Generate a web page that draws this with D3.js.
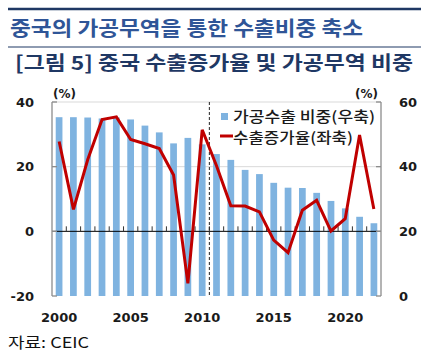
<!DOCTYPE html>
<html>
<head>
<meta charset="utf-8">
<script src="https://cdn.jsdelivr.net/npm/d3@7"></script>
<style>
  html, body { margin: 0; padding: 0; background: #fff; }
  svg { display: block; }
</style>
</head>
<body>
<svg id="chart" width="428" height="356"></svg>
<script>
const years = d3.range(2000, 2023);
const processingShare = [55.3, 55.3, 55.2, 54.9, 55.2, 54.6, 52.7, 50.6, 47.2, 48.9, 46.9, 43.9, 42.1, 39.0, 37.7, 35.0, 33.5, 33.4, 31.9, 29.4, 27.1, 24.5, 22.5];
const exportGrowth = [27.8, 6.8, 22.2, 34.6, 35.4, 28.4, 27.1, 25.6, 17.4, -16.1, 31.4, 20.3, 7.9, 7.8, 6.0, -2.7, -6.6, 6.5, 9.6, 0.1, 3.9, 29.8, 6.9];
const leftTicks = [-20, 0, 20, 40];
const rightTicks = [0, 20, 40, 60];
const xTickYears = [2000, 2005, 2010, 2015, 2020];
const titleText = "중국의 가공무역을 통한 수출비중 축소";
const subtitleText = "[그림 5] 중국 수출증가율 및 가공무역 비중";
const legendLabels = ["가공수출 비중(우축)", "수출증가율(좌축)"];
const sourceText = "자료: CEIC";

const svg = d3.select("#chart");
const m = {left: 52, right: 381, top: 102, bottom: 296};
const numFont = "'DejaVu Sans', sans-serif";
const krFont = "'Noto Sans CJK KR', sans-serif";

// Title block
svg.append("line").attr("x1", 8).attr("x2", 421).attr("y1", 9).attr("y2", 9)
  .attr("stroke", "#1f3864").attr("stroke-width", 2.5);
svg.append("text").attr("x", 10).attr("y", 36).text(titleText)
  .attr("font-family", krFont).attr("font-weight", 700).attr("font-size", 20)
  .attr("fill", "#2f5597").attr("textLength", 353).attr("lengthAdjust", "spacingAndGlyphs");
svg.append("line").attr("x1", 8).attr("x2", 421).attr("y1", 47).attr("y2", 47)
  .attr("stroke", "#1f3864").attr("stroke-width", 1.2);
svg.append("text").attr("x", 15).attr("y", 70).text(subtitleText)
  .attr("font-family", krFont).attr("font-weight", 700).attr("font-size", 19)
  .attr("fill", "#1f3864").attr("textLength", 398).attr("lengthAdjust", "spacingAndGlyphs");

// Scales
const x = d3.scaleBand().domain(years).range([m.left, m.right]).paddingInner(0.53).paddingOuter(0.26);
const xb = d3.scaleBand().domain(years).range([m.left, m.right]);
const yL = d3.scaleLinear().domain([-20, 40]).range([m.bottom, m.top]);
const yR = d3.scaleLinear().domain([0, 60]).range([m.bottom, m.top]);

// Gridlines
svg.append("g").selectAll("line").data([20, 40]).join("line")
  .attr("x1", m.left).attr("x2", m.right)
  .attr("y1", d => yL(d)).attr("y2", d => yL(d))
  .attr("stroke", "#d9d9d9").attr("stroke-width", 1);

// Bars
svg.append("g").selectAll("rect").data(years).join("rect")
  .attr("x", (d) => x(d))
  .attr("width", x.bandwidth())
  .attr("y", (d, i) => yR(processingShare[i]))
  .attr("height", (d, i) => yR(0) - yR(processingShare[i]))
  .attr("fill", "#7fb3e0");

// Zero line with upward ticks
svg.append("line").attr("x1", m.left).attr("x2", m.right)
  .attr("y1", yL(0)).attr("y2", yL(0)).attr("stroke", "#000").attr("stroke-width", 1);
svg.append("g").selectAll("line").data(years.slice(1)).join("line")
  .attr("x1", d => xb(d)).attr("x2", d => xb(d))
  .attr("y1", yL(0)).attr("y2", yL(0) - 5)
  .attr("stroke", "#333").attr("stroke-width", 1);

// Axes lines
svg.append("line").attr("x1", m.left).attr("x2", m.left).attr("y1", m.top).attr("y2", m.bottom)
  .attr("stroke", "#8c8c8c").attr("stroke-width", 1.3);
svg.append("line").attr("x1", m.right).attr("x2", m.right).attr("y1", m.top).attr("y2", m.bottom)
  .attr("stroke", "#8c8c8c").attr("stroke-width", 1.3);
svg.append("g").selectAll("line").data(leftTicks).join("line")
  .attr("x1", m.left).attr("x2", m.left + 5).attr("y1", d => yL(d)).attr("y2", d => yL(d))
  .attr("stroke", "#8c8c8c").attr("stroke-width", 1.3);
svg.append("g").selectAll("line").data(rightTicks).join("line")
  .attr("x1", m.right - 5).attr("x2", m.right).attr("y1", d => yR(d)).attr("y2", d => yR(d))
  .attr("stroke", "#8c8c8c").attr("stroke-width", 1.3);

// Dashed divider between 2010 and 2011
svg.append("line").attr("x1", xb(2011)).attr("x2", xb(2011)).attr("y1", m.top).attr("y2", m.bottom)
  .attr("stroke", "#222").attr("stroke-width", 1).attr("stroke-dasharray", "3,2");

// Line
const line = d3.line().x((d, i) => xb(years[i]) + xb.bandwidth() / 2).y(d => yL(d));
svg.append("path").datum(exportGrowth).attr("d", line)
  .attr("fill", "none").attr("stroke", "#c00000").attr("stroke-width", 3).attr("stroke-linejoin", "miter");

// Tick labels
svg.append("g").selectAll("text").data(leftTicks).join("text")
  .attr("x", 34).attr("y", d => yL(d)).attr("dy", "0.36em").attr("text-anchor", "end")
  .attr("font-family", numFont).attr("font-weight", 700).attr("font-size", 13).attr("fill", "#1a1a1a")
  .text(d => d);
svg.append("g").selectAll("text").data(rightTicks).join("text")
  .attr("x", 399).attr("y", d => yR(d)).attr("dy", "0.36em").attr("text-anchor", "start")
  .attr("font-family", numFont).attr("font-weight", 700).attr("font-size", 13).attr("fill", "#1a1a1a")
  .text(d => d);
svg.append("g").selectAll("text").data(xTickYears).join("text")
  .attr("x", d => xb(d) + xb.bandwidth() / 2).attr("y", 322).attr("text-anchor", "middle")
  .attr("font-family", numFont).attr("font-weight", 700).attr("font-size", 13).attr("fill", "#1a1a1a")
  .text(d => d);

// Units
svg.append("text").attr("x", 53).attr("y", 98).text("(%)")
  .attr("font-family", numFont).attr("font-weight", 700).attr("font-size", 12).attr("fill", "#1a1a1a");
svg.append("text").attr("x", 355).attr("y", 98).text("(%)")
  .attr("font-family", numFont).attr("font-weight", 700).attr("font-size", 12).attr("fill", "#1a1a1a");

// Legend
svg.append("rect").attr("x", 221).attr("y", 113).attr("width", 7).attr("height", 7).attr("fill", "#7fb3e0");
svg.append("text").attr("x", 233).attr("y", 121.5).text(legendLabels[0])
  .attr("font-family", krFont).attr("font-weight", 500).attr("font-size", 14.5).attr("fill", "#1a1a1a")
  .attr("textLength", 142).attr("lengthAdjust", "spacingAndGlyphs");
svg.append("line").attr("x1", 220).attr("x2", 233).attr("y1", 136).attr("y2", 136)
  .attr("stroke", "#c00000").attr("stroke-width", 3);
svg.append("text").attr("x", 233).attr("y", 143).text(legendLabels[1])
  .attr("font-family", krFont).attr("font-weight", 500).attr("font-size", 14.5).attr("fill", "#1a1a1a")
  .attr("textLength", 120).attr("lengthAdjust", "spacingAndGlyphs");

// Source
svg.append("text").attr("x", 8).attr("y", 348).text(sourceText)
  .attr("font-family", krFont).attr("font-size", 15).attr("fill", "#111")
  .attr("textLength", 81).attr("lengthAdjust", "spacingAndGlyphs");
</script>
</body>
</html>
